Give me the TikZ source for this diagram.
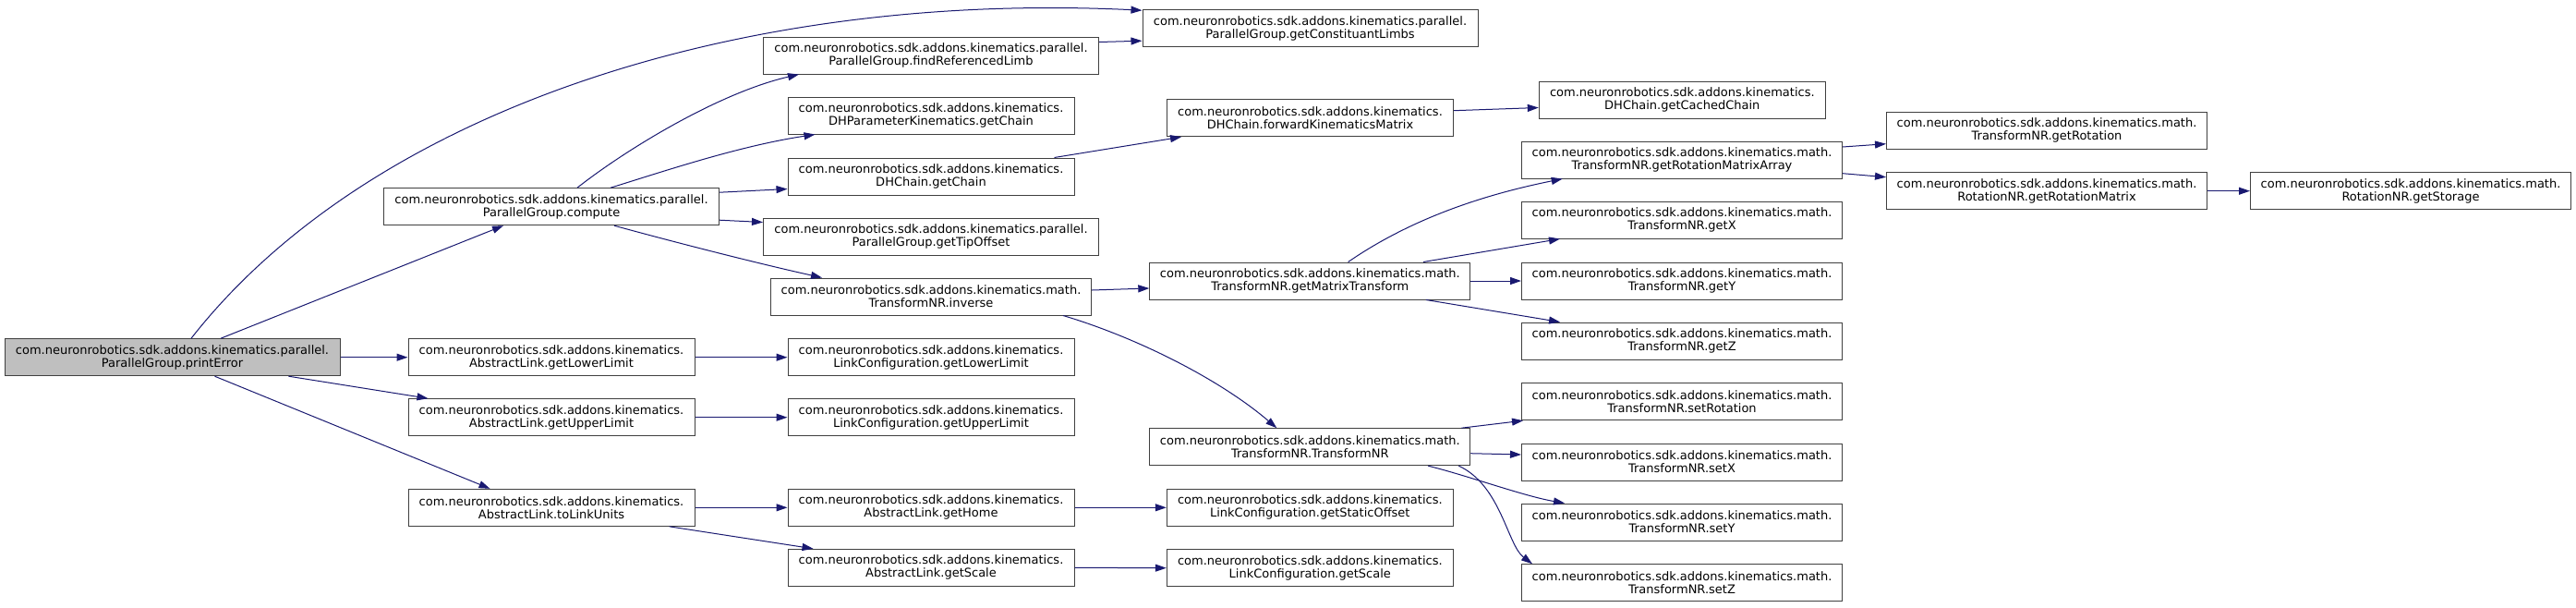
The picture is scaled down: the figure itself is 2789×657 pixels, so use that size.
\documentclass[tikz,border=0pt]{standalone}
\usepackage{fontspec}
\setmainfont{DejaVu Sans}
\usetikzlibrary{arrows.meta,calc}
\definecolor{grey25}{HTML}{404040}
\definecolor{grey75}{HTML}{BFBFBF}
\definecolor{midnight}{HTML}{191970}
\begin{document}
\begin{tikzpicture}[x=1pt,y=-1pt,every node/.style={draw=grey25,fill=white,line width=1pt,align=center,minimum height=40pt,inner sep=2pt,font=\fontsize{13}{14}\selectfont}]

\tikzstyle{call}=[draw=midnight,line width=1pt,-{Triangle[length=12pt,width=8pt]}]
\tikzstyle{par}=[minimum width=363pt]
\tikzstyle{kin}=[minimum width=310pt]
\tikzstyle{mth}=[minimum width=347pt]

\useasboundingbox (0,0) rectangle (2789,657);

% callers
\node (pe) [par,fill=grey75] at (186.5,386.7) {com.neuronrobotics.sdk.addons.kinematics.parallel.\\ParallelGroup.printError};
\node (cmp) [par] at (597,223.7) {com.neuronrobotics.sdk.addons.kinematics.parallel.\\ParallelGroup.compute};
\node (algl) [kin] at (597,386.7) {com.neuronrobotics.sdk.addons.kinematics.\\AbstractLink.getLowerLimit};
\node (algu) [kin] at (597,451.7) {com.neuronrobotics.sdk.addons.kinematics.\\AbstractLink.getUpperLimit};
\node (altl) [kin] at (597,549.3) {com.neuronrobotics.sdk.addons.kinematics.\\AbstractLink.toLinkUnits};

\node (gcl) [par] at (1418.5,30.7) {com.neuronrobotics.sdk.addons.kinematics.parallel.\\ParallelGroup.getConstituantLimbs};
\node (frl) [par] at (1008,60) {com.neuronrobotics.sdk.addons.kinematics.parallel.\\ParallelGroup.findReferencedLimb};
\node (dhpk) [kin] at (1008,125) {com.neuronrobotics.sdk.addons.kinematics.\\DHParameterKinematics.getChain};
\node (dhgc) [kin] at (1008,191) {com.neuronrobotics.sdk.addons.kinematics.\\DHChain.getChain};
\node (gto) [par] at (1008,256) {com.neuronrobotics.sdk.addons.kinematics.parallel.\\ParallelGroup.getTipOffset};
\node (inv) [mth] at (1008,321) {com.neuronrobotics.sdk.addons.kinematics.math.\\TransformNR.inverse};
\node (lcgl) [kin] at (1008,386.7) {com.neuronrobotics.sdk.addons.kinematics.\\LinkConfiguration.getLowerLimit};
\node (lcgu) [kin] at (1008,451.7) {com.neuronrobotics.sdk.addons.kinematics.\\LinkConfiguration.getUpperLimit};
\node (algh) [kin] at (1008,549.3) {com.neuronrobotics.sdk.addons.kinematics.\\AbstractLink.getHome};
\node (algs) [kin] at (1008,614.3) {com.neuronrobotics.sdk.addons.kinematics.\\AbstractLink.getScale};

\node (fkm) [kin] at (1418.5,127.7) {com.neuronrobotics.sdk.addons.kinematics.\\DHChain.forwardKinematicsMatrix};
\node (gmt) [mth] at (1418.3,304) {com.neuronrobotics.sdk.addons.kinematics.math.\\TransformNR.getMatrixTransform};
\node (tnr) [mth] at (1418.3,483.7) {com.neuronrobotics.sdk.addons.kinematics.math.\\TransformNR.TransformNR};
\node (lcso) [kin] at (1418.3,549.3) {com.neuronrobotics.sdk.addons.kinematics.\\LinkConfiguration.getStaticOffset};
\node (lcs) [kin] at (1418.3,614.7) {com.neuronrobotics.sdk.addons.kinematics.\\LinkConfiguration.getScale};

\node (gcc) [kin] at (1821.3,108) {com.neuronrobotics.sdk.addons.kinematics.\\DHChain.getCachedChain};
\node (grma) [mth] at (1821,173) {com.neuronrobotics.sdk.addons.kinematics.math.\\TransformNR.getRotationMatrixArray};
\node (gx) [mth] at (1821,238) {com.neuronrobotics.sdk.addons.kinematics.math.\\TransformNR.getX};
\node (gy) [mth] at (1821,304) {com.neuronrobotics.sdk.addons.kinematics.math.\\TransformNR.getY};
\node (gz) [mth] at (1821,369) {com.neuronrobotics.sdk.addons.kinematics.math.\\TransformNR.getZ};
\node (srot) [mth] at (1821,434.7) {com.neuronrobotics.sdk.addons.kinematics.math.\\TransformNR.setRotation};
\node (sx) [mth] at (1821,500) {com.neuronrobotics.sdk.addons.kinematics.math.\\TransformNR.setX};
\node (sy) [mth] at (1821,565) {com.neuronrobotics.sdk.addons.kinematics.math.\\TransformNR.setY};
\node (sz) [mth] at (1821,630.7) {com.neuronrobotics.sdk.addons.kinematics.math.\\TransformNR.setZ};

\node (grot) [mth] at (2216,141) {com.neuronrobotics.sdk.addons.kinematics.math.\\TransformNR.getRotation};
\node (grm) [mth] at (2216,206.7) {com.neuronrobotics.sdk.addons.kinematics.math.\\RotationNR.getRotationMatrix};
\node (gst) [mth] at (2610,206.7) {com.neuronrobotics.sdk.addons.kinematics.math.\\RotationNR.getStorage};

% calls from printError
\draw [call] ($(pe.north)+(20.5,0)$) .. controls (400,120) and (800,-10) .. ($(gcl.north west)+(0,1)$);
\draw [call] ($(pe.north)+(52.5,0)$) -- ($(cmp.south)+(-52,0)$);
\draw [call] (pe.east) -- (algl.west);
\draw [call] ($(pe.south)+(126,0)$) -- ($(algu.north west)+(22,0)$);
\draw [call] ($(pe.south)+(46,0)$) -- ($(altl.north west)+(89,0)$);

% calls from compute
\draw [call] ($(cmp.north)+(28,0)$) .. controls (680,160) and (780,100) .. ($(frl.south west)+(39,0)$);
\draw [call] ($(cmp.north)+(64,0)$) .. controls (720,185) and (800,158) .. ($(dhpk.south west)+(30,0)$);
\draw [call] ($(cmp.north east)+(0,5)$) -- ($(dhgc.south west)+(0,-7)$);
\draw [call] ($(cmp.south east)+(0,-6)$) -- ($(gto.north west)+(0,5)$);
\draw [call] ($(cmp.south)+(68,0)$) .. controls (730,262) and (820,285) .. ($(inv.north west)+(56,0)$);

\draw [call] ($(frl.north east)+(0,6)$) -- ($(gcl.south west)+(0,-7)$);
\draw [call] ($(dhgc.north east)+(-22,0)$) -- ($(fkm.south west)+(16,0)$);
\draw [call] ($(fkm.east)+(0,-8)$) -- ($(gcc.south west)+(0,-12)$);

% calls from inverse
\draw [call] ($(inv.east)+(0,-7)$) -- ($(gmt.west)+(0,8)$);
\draw [call] ($(inv.south)+(143,0)$) .. controls (1230,365) and (1320,410) .. ($(tnr.north west)+(138,0)$);

\draw [call] ($(gmt.north)+(41.3,0)$) .. controls (1530,235) and (1610,210) .. ($(grma.south west)+(44.7,0)$);
\draw [call] ($(gmt.north)+(122.7,0)$) -- ($(gx.south west)+(42,0)$);
\draw [call] (gmt.east) -- (gy.west);
\draw [call] ($(gmt.south)+(125.7,0)$) -- ($(gz.north west)+(42,0)$);

\draw [call] ($(grma.east)+(0,-14)$) -- ($(grot.west)+(0,14.7)$);
\draw [call] ($(grma.east)+(0,14.7)$) -- ($(grm.west)+(0,-15)$);
\draw [call] (grm.east) -- (gst.west);

% calls from TransformNR
\draw [call] ($(tnr.north east)+(-10,0)$) -- ($(srot.south west)+(2,0)$);
\draw [call] ($(tnr.east)+(0,7)$) -- ($(sx.west)+(0,-8)$);
\draw [call] ($(tnr.south)+(128,0)$) .. controls (1590,515) and (1650,537) .. ($(sy.north west)+(47,0)$);
\draw [call] ($(tnr.south)+(161,0)$) .. controls (1625,525) and (1632,590) .. ($(sz.north west)+(12,0)$);

% AbstractLink calls
\draw [call] (algl.east) -- (lcgl.west);
\draw [call] (algu.east) -- (lcgu.west);
\draw [call] (altl.east) -- (algh.west);
\draw [call] ($(altl.south)+(127.6,0)$) -- ($(algs.north west)+(28,0)$);
\draw [call] (algh.east) -- (lcso.west);
\draw [call] (algs.east) -- (lcs.west);

\end{tikzpicture}
\end{document}
